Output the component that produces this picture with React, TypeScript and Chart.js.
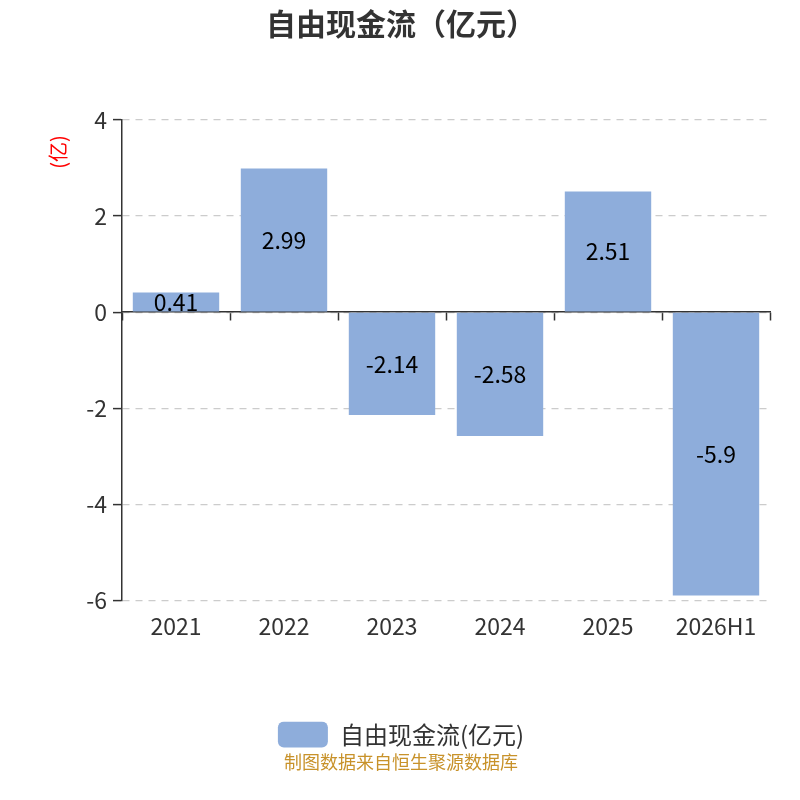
import { Chart, registerables } from "chart.js";
import { useEffect, useRef } from "react";

Chart.register(...registerables);

const years = ["2021", "2022", "2023", "2024", "2025", "2026H1"];
const cashFlow = [0.41, 2.99, -2.14, -2.58, 2.51, -5.9];
const seriesName = "自由现金流(亿元)";
const titleText = "自由现金流（亿元）";
const unitText = "(亿)";
const footerText = "制图数据来自恒生聚源数据库";

const FONT = '"Noto Sans CJK SC", "Microsoft YaHei", sans-serif';
const BAR = "rgb(142,173,219)";

const barLabels = {
  id: "barLabels",
  afterDatasetsDraw(chart: any) {
    const ctx = chart.ctx;
    const meta = chart.getDatasetMeta(0);
    ctx.save();
    ctx.font = `23px ${FONT}`;
    ctx.fillStyle = "#000";
    ctx.textAlign = "center";
    ctx.textBaseline = "middle";
    meta.data.forEach((bar: any, i: number) => {
      ctx.fillText(String(cashFlow[i]), bar.x, (bar.y + bar.base) / 2);
    });
    ctx.restore();
  },
};

// unit label, rotated, near the top of the value axis
const unitLabel = {
  id: "unitLabel",
  afterDraw(chart: any) {
    const ctx = chart.ctx;
    const y = chart.scales.y;
    ctx.save();
    ctx.translate(58, y.top + 32);
    ctx.rotate(-Math.PI / 2);
    ctx.font = `20px ${FONT}`;
    ctx.fillStyle = "red";
    ctx.textAlign = "center";
    ctx.textBaseline = "middle";
    ctx.fillText(unitText, 0, 0);
    ctx.restore();
  },
};

const App = () => {
  const chartRef = useRef<HTMLCanvasElement>(null);
  const chartInstance = useRef<Chart | null>(null);

  useEffect(() => {
    const canvas = chartRef.current;
    if (!canvas) return;
    const ctx = canvas.getContext("2d");
    if (!ctx) return;
    if (chartInstance.current) chartInstance.current.destroy();

    chartInstance.current = new Chart(ctx, {
      type: "bar",
      data: {
        labels: years,
        datasets: [
          {
            label: seriesName,
            data: cashFlow,
            backgroundColor: BAR,
            categoryPercentage: 1,
            barPercentage: 0.8,
          },
        ],
      },
      plugins: [barLabels, unitLabel],
      options: {
        animation: false,
        responsive: true,
        maintainAspectRatio: false,
        layout: { padding: { left: 32, right: 30, top: 0, bottom: 0 } },
        plugins: {
          tooltip: { enabled: false },
          title: {
            display: true,
            text: titleText,
            color: "#333",
            font: { size: 30, weight: "bold", family: FONT },
            padding: { top: 6, bottom: 78 },
          },
          subtitle: {
            display: true,
            position: "bottom",
            text: footerText,
            color: "#c8922a",
            font: { size: 18, family: FONT },
            padding: { top: -6, bottom: 27 },
          },
          legend: {
            position: "bottom",
            labels: {
              boxWidth: 50,
              boxHeight: 26,
              useBorderRadius: true,
              borderRadius: 6,
              padding: 0,
              color: "#333",
              font: { size: 24, family: FONT },
            },
          },
        },
        scales: {
          x: {
            offset: true,
            grid: { display: false, offset: true },
            border: { display: false },
            ticks: { color: "#333", padding: 4, font: { size: 23, family: FONT } },
            afterFit: (scale: any) => {
              scale.height = 121;
            },
          },
          x2: {
            type: "category",
            axis: "x",
            position: { y: 0 },
            offset: true,
            grid: {
              display: true,
              offset: true,
              drawOnChartArea: false,
              drawTicks: true,
              tickLength: 8,
              tickColor: "#333",
              tickWidth: 1.5,
            },
            border: { display: true, color: "#333", width: 1.5 },
            ticks: { display: false },
          },
          y: {
            min: -6,
            max: 4,
            ticks: {
              stepSize: 2,
              color: "#333",
              padding: 6,
              font: { size: 23, family: FONT },
            },
            grid: {
              color: "#ccc",
              lineWidth: 1.2,
              tickLength: 9,
              tickColor: "#333",
              tickWidth: 1.5,
              tickBorderDash: [],
            },
            border: { display: true, color: "#333", width: 1.5, dash: [7, 6] },
            afterFit: (scale: any) => {
              scale.width = 90;
            },
          },
        },
      } as any,
    });

    return () => {
      if (chartInstance.current) {
        chartInstance.current.destroy();
        chartInstance.current = null;
      }
    };
  }, []);

  return (
    <div style={{ position: "fixed", left: 0, top: 0, width: 800, height: 800, background: "#fff" }}>
      <canvas ref={chartRef} />
    </div>
  );
};

export default App;
